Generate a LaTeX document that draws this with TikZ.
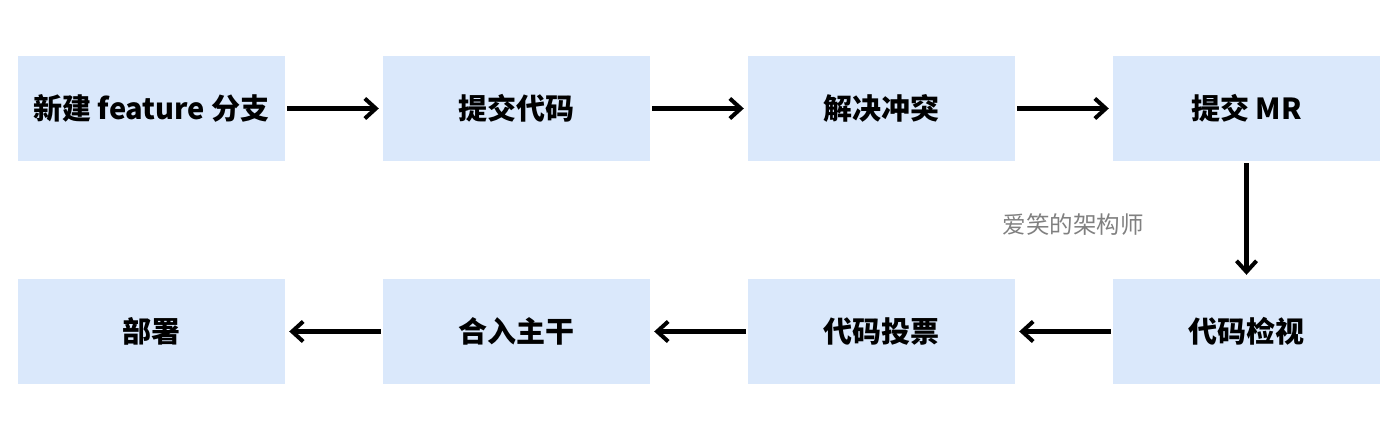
\documentclass[tikz,border=0pt]{standalone}
\usepackage{fontspec}
\setmainfont{Noto Sans CJK SC}
\usepackage{xcolor}
\usetikzlibrary{arrows.meta}
\definecolor{boxblue}{RGB}{218,232,251}

\begin{document}
\begin{tikzpicture}[
  x=1pt,y=1pt,
  font=\fontsize{29}{33}\selectfont\bfseries,
  every matrix/.style={ampersand replacement=\&,column sep=98pt,row sep=118pt,inner sep=0pt},
  step_box/.style={fill=boxblue,minimum width=267pt,minimum height=105pt,inner sep=0pt,anchor=center},
  mark_text/.style={font=\fontsize{23.5}{28}\selectfont,text=black!50},
  to/.style={-{Straight Barb[length=11pt,width=20pt,line width=4pt]},line width=4.5pt,shorten >=4pt,shorten <=2pt}]

  \useasboundingbox (0,0) rectangle (1400,-438);

  % Position the nodes using a matrix layout
  \matrix at (699,-220) {
    \node[step_box] (new_branch) {新建 feature 分支}; \&
    \node[step_box] (commit) {提交代码}; \&
    \node[step_box] (resolve) {解决冲突}; \&
    \node[step_box] (submit_mr) {提交 MR}; \\
    \node[step_box] (deploy) {部署}; \&
    \node[step_box] (merge) {合入主干}; \&
    \node[step_box] (vote) {代码投票}; \&
    \node[step_box] (review) {代码检视}; \\
  };

  \node[mark_text] (watermark) at (1073,-225) {爱笑的架构师};

  % Draw the arrows between the nodes
  \draw[to] (new_branch) -- (commit);
  \draw[to] (commit) -- (resolve);
  \draw[to] (resolve) -- (submit_mr);
  \draw[to] (submit_mr) -- (review);
  \draw[to] (review) -- (vote);
  \draw[to] (vote) -- (merge);
  \draw[to] (merge) -- (deploy);
\end{tikzpicture}
\end{document}
